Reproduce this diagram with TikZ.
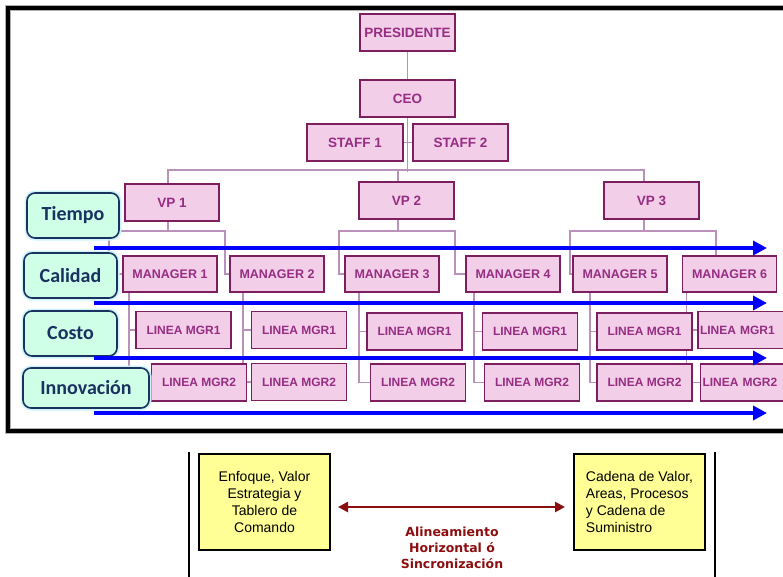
\documentclass[tikz,border=0pt]{standalone}
\usepackage{fontspec}
\setmainfont{Liberation Sans}
\newfontfamily\calibfont{Carlito}
\newfontfamily\verdfont{DejaVu Sans}
\usetikzlibrary{positioning}
\usetikzlibrary{backgrounds, shapes}
\usetikzlibrary{arrows.meta}

\definecolor{orgfill}{RGB}{242,206,232}
\definecolor{orgline}{RGB}{125,30,95}
\definecolor{orgtext}{RGB}{150,45,130}
\definecolor{orgconn}{RGB}{185,145,185}
\definecolor{axisfill}{RGB}{208,255,232}
\definecolor{axisline}{RGB}{25,50,95}
\definecolor{axisglow}{RGB}{205,245,250}
\definecolor{syncred}{RGB}{140,15,15}
\definecolor{notefill}{RGB}{255,255,150}

\begin{document}
\begin{tikzpicture}[x=1pt, y=-1pt,
		orgbox/.style={draw=orgline, line width=1.6pt, fill=orgfill, text=orgtext, inner sep=0pt,
			minimum width=95pt, minimum height=37pt, font=\bfseries\fontsize{13.5}{16}\selectfont},
		mgrbox/.style={orgbox, minimum width=94pt, minimum height=36pt, font=\bfseries\fontsize{12.5}{15}\selectfont},
		lmgrbox/.style={orgbox, font=\bfseries\fontsize{12}{14}\selectfont},
		edgebox/.style={lmgrbox, text width=91pt, align=left},
		conn/.style={draw=orgconn, line width=1.5pt},
		axisbox/.style={draw=axisline, line width=1.6pt, fill=axisfill, rounded corners=8pt, text=axisline,
			inner sep=0pt, minimum width=93pt, minimum height=45pt,
			font=\calibfont\bfseries\fontsize{20}{24}\selectfont, preaction={draw=axisglow, line width=5pt}},
		timeline/.style={draw=blue, line width=4pt, -{Triangle[length=14pt, width=14pt]}},
		notebox/.style={draw=black, line width=2pt, fill=notefill, inner sep=0pt,
			minimum width=131pt, minimum height=96pt, font=\fontsize{14}{17}\selectfont},
		sync/.style={draw=syncred, line width=2.5pt, shorten <=7pt, shorten >=8pt,
			{Triangle[length=10pt, width=10pt]}-{Triangle[length=10pt, width=10pt]}}
		]
		
		\useasboundingbox (0,0) rectangle (783,576);
		\clip (0,0) rectangle (783,576);
		
		% frame
		\draw[gray!60, line width=6pt] (8,8) rectangle (800,431);
		\draw[black, line width=3.5pt] (8,8) rectangle (800,431);
		
		%top
		\node[orgbox] (pres) at (407.5,32.5) {PRESIDENTE};
		\node[orgbox] (ceo) at (407.5,98.5) {CEO};
		\node[orgbox, minimum width=96pt] (stf1) at (355,142.5) {STAFF 1};
		\node[orgbox] (stf2) at (460.5,142.5) {STAFF 2};
		
		%vps
		\node[orgbox, minimum width=94pt] (vp1) at (172,202.5) {VP 1};
		\node[orgbox] (vp2) at (406.5,200.5) {VP 2};
		\node[orgbox] (vp3) at (651.5,200.5) {VP 3};
		
		%managers
		\node[mgrbox] (mgr1) at (170,274) {MANAGER 1};
		\node[mgrbox] (mgr2) at (277,274) {MANAGER 2};
		\node[mgrbox] (mgr3) at (392,274) {MANAGER 3};
		\node[mgrbox] (mgr4) at (513,274) {MANAGER 4};
		\node[mgrbox] (mgr5) at (620,274) {MANAGER 5};
		\node[mgrbox] (mgr6) at (729.5,274) {MANAGER 6};
		
		%line managers
		\node[lmgrbox] (lm11) at (183.5,330) {LINEA MGR1};
		\node[lmgrbox] (lm12) at (199,382.5) {LINEA MGR2};
		\node[lmgrbox] (lm21) at (299,330) {LINEA MGR1};
		\node[lmgrbox] (lm22) at (299,382) {LINEA MGR2};
		\node[lmgrbox] (lm31) at (414.5,331.5) {LINEA MGR1};
		\node[lmgrbox] (lm32) at (418,382.5) {LINEA MGR2};
		\node[lmgrbox] (lm41) at (530,331.5) {LINEA MGR1};
		\node[lmgrbox] (lm42) at (532,382.5) {LINEA MGR2};
		\node[lmgrbox] (lm51) at (644.5,331.5) {LINEA MGR1};
		\node[lmgrbox] (lm52) at (644.5,382.5) {LINEA MGR2};
		\node[edgebox] (lm61) at (745.5,330) {LINEA MGR1};
		\node[edgebox] (lm62) at (748,382.5) {LINEA MGR2};
		
		\begin{pgfonlayer}{background}
			% top connectors
			\draw[conn] (pres) -- (ceo);
			\draw[conn] (ceo.south) -- ++(0,54);
			\draw[conn] (stf1.east) -- (stf2.west);
			\draw[conn] ([xshift=-4pt]vp1.north) -- ++(0,-13) -| ([xshift=-7.5pt]vp3.north);
			\draw[conn] ([xshift=-8.5pt]vp2.north) -- ++(0,-11);
			
			% vps to managers
			\draw[conn] ([xshift=-4pt]vp1.south) -- ++(0,9) coordinate (v1b);
			\draw[conn] (mgr1.west) -- ++(-13,0) |- (v1b) -| ([xshift=-4pt]mgr2.west) -- (mgr2.west);
			\draw[conn] ([xshift=-8.5pt]vp2.south) -- ++(0,11) coordinate (v2b);
			\draw[conn] (mgr3.west) -- ++(-5,0) |- (v2b) -| ([xshift=-10pt]mgr4.west) -- (mgr4.west);
			\draw[conn] ([xshift=-7.5pt]vp3.south) -- ++(0,11) coordinate (v3b);
			\draw[conn] (mgr5.west) -- ++(-2,0) |- (v3b) -| ([xshift=-13.5pt]mgr6.north);
			
			% managers to line managers
			\draw[conn] ([xshift=7pt]mgr1.south west) |- (lm12.west);
			\draw[conn] (lm11.west) -| ([xshift=7pt]mgr1.south west);
			\draw[conn] ([xshift=14pt]mgr2.south west) |- (lm22.west);
			\draw[conn] (lm21.west) -| ([xshift=14pt]mgr2.south west);
			\draw[conn] ([xshift=15pt]mgr3.south west) |- (lm32.west);
			\draw[conn] (lm31.west) -| ([xshift=15pt]mgr3.south west);
			\draw[conn] ([xshift=9pt]mgr4.south west) |- (lm42.west);
			\draw[conn] (lm41.west) -| ([xshift=9pt]mgr4.south west);
			\draw[conn] ([xshift=18pt]mgr5.south west) |- (lm52.west);
			\draw[conn] (lm51.west) -| ([xshift=18pt]mgr5.south west);
			\draw[conn] ([xshift=5pt]mgr6.south west) |- (lm62.west);
			\draw[conn] (lm61.west) -| ([xshift=5pt]mgr6.south west);
		\end{pgfonlayer}
		
		% axes
		\node[axisbox, minimum width=92pt] (tiempo) at (73,215.5) {Tiempo};
		\node[axisbox] (calidad) at (70.5,275.5) {Calidad};
		\node[axisbox] (costo) at (70.5,333.5) {Costo};
		\node[axisbox, minimum width=126pt, minimum height=40pt] (innov) at (86,388) {Innovación};
		
		% arrows
		\coordinate (t1s) at (94,248);
		\coordinate (t1e) at (767,248);
		\coordinate (t2s) at (94,303);
		\coordinate (t2e) at (767,303);
		\coordinate (t3s) at (94,358);
		\coordinate (t3e) at (767,358);
		\coordinate (t4s) at (94,413);
		\coordinate (t4e) at (767,413);
		\draw[timeline] (t1s) -- (t1e);
		\draw[timeline] (t2s) -- (t2e);
		\draw[timeline] (t3s) -- (t3e);
		\draw[timeline] (t4s) -- (t4e);
		
		% bottom
		\coordinate (sepl) at (189,452);
		\coordinate (sepr) at (715,452);
		\draw[line width=2pt] (sepl) -- ++(0,130);
		\draw[line width=2pt] (sepr) -- ++(0,130);
		\node[notebox, align=center] (focus) at (264.5,502) {Enfoque, Valor\\Estrategia y\\Tablero de\\Comando};
		\node[notebox, align=left] (chain) at (639.5,502) {Cadena de Valor,\\Areas, Procesos\\y Cadena de\\Suministro};
		\draw[sync] ([yshift=-5pt]focus.east) -- ([yshift=-5pt]chain.west);
		\node[text=syncred, font=\verdfont\bfseries\fontsize{12.5}{16}\selectfont, align=center] (synclbl) at (452,548)
		{Alineamiento\\Horizontal ó\\Sincronización};
	\end{tikzpicture}
\end{document}
